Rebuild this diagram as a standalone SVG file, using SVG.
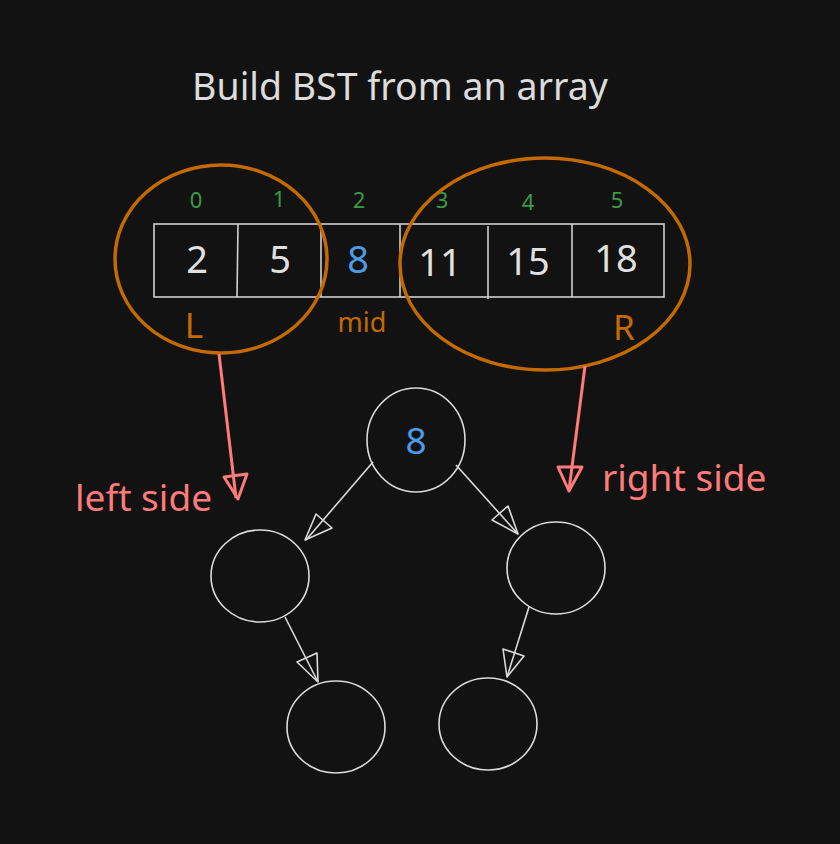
<svg xmlns="http://www.w3.org/2000/svg" width="840" height="844" viewBox="0 0 840 844">
<style>
text{font-family:"Noto Sans","Open Sans",sans-serif}
.num{font-size:38px;fill:#e0e0e0;text-anchor:middle}
.idx{font-size:22px;fill:#3a9a48;text-anchor:middle}
.org{fill:#c46a00;text-anchor:middle}
.pink{fill:#ff7a7a;font-size:37px}
.node{fill:none;stroke:#dcdcdc;stroke-width:1.6}
.edge{stroke:#dcdcdc;stroke-width:1.6;fill:none}
.ehead{stroke:#dcdcdc;stroke-width:1.6;fill:none;stroke-linejoin:round}
.parr{stroke:#ff7a7a;stroke-width:3;fill:none;stroke-linejoin:round}
.oell{fill:none;stroke:#c46a00;stroke-width:3.5}
</style>
<rect width="840" height="844" fill="#121212"/>
<text x="400" y="100" font-size="37.5" fill="#dcdcdc" text-anchor="middle">Build BST from an array</text>

<g id="array">
<rect x="154" y="224" width="510" height="73" fill="none" stroke="#d0d0d0" stroke-width="1.6"/>
<line x1="238" y1="224" x2="237" y2="297" stroke="#d0d0d0" stroke-width="1.6"/>
<line x1="321" y1="224" x2="321" y2="297" stroke="#d0d0d0" stroke-width="1.6"/>
<line x1="400" y1="224" x2="400" y2="297" stroke="#d0d0d0" stroke-width="1.6"/>
<line x1="488" y1="226" x2="488" y2="299" stroke="#d0d0d0" stroke-width="1.6"/>
<line x1="572" y1="224" x2="572" y2="297" stroke="#d0d0d0" stroke-width="1.6"/>
<text class="num" x="197" y="273">2</text>
<text class="num" x="280" y="273">5</text>
<text class="num" x="358" y="273" style="fill:#4d9be6">8</text>
<text class="num" x="440" y="276">11</text>
<text class="num" x="528" y="275">15</text>
<text class="num" x="616" y="272">18</text>
<text class="idx" x="196" y="208">0</text>
<text class="idx" x="279" y="207">1</text>
<text class="idx" x="359" y="208">2</text>
<text class="idx" x="442" y="208">3</text>
<text class="idx" x="528" y="210">4</text>
<text class="idx" x="617" y="208">5</text>
</g>

<g id="left-range">
<ellipse class="oell" cx="221" cy="259" rx="106" ry="94"/>
<text class="org" x="194" y="338" font-size="35">L</text>
</g>
<g id="mid-label">
<text class="org" x="362" y="332" font-size="27">mid</text>
</g>
<g id="right-range">
<ellipse class="oell" cx="545" cy="264" rx="145" ry="106"/>
<text class="org" x="624" y="340" font-size="35">R</text>
</g>

<g id="left-side-label"><text class="pink" x="75" y="511">left side</text></g>
<g id="right-side-label"><text class="pink" x="602" y="491">right side</text></g>

<g id="root">
<ellipse class="node" cx="416" cy="440" rx="49" ry="52"/>
<text x="416" y="454" font-size="37" fill="#4d9be6" text-anchor="middle">8</text>
</g>
<g id="left-child"><ellipse class="node" cx="260" cy="576" rx="49" ry="46"/></g>
<g id="right-child"><ellipse class="node" cx="556" cy="568" rx="49" ry="46"/></g>
<g id="left-grandchild"><ellipse class="node" cx="336" cy="727" rx="49" ry="46"/></g>
<g id="right-grandchild"><ellipse class="node" cx="488" cy="724" rx="49" ry="46"/></g>

<g id="connectors">
<line class="parr" x1="219" y1="354" x2="236" y2="498"/>
<polygon class="parr" points="224,477 247,474 238,499"/>
<line class="parr" x1="585" y1="366" x2="569" y2="490"/>
<polygon class="parr" points="558,467 582,467 569,491"/>

<line class="edge" x1="373" y1="462" x2="306" y2="540"/>
<polygon class="ehead" points="316,514 332,528 305,540"/>
<line class="edge" x1="456" y1="465" x2="518" y2="534"/>
<polygon class="ehead" points="492,520 508,506 518,534"/>
<line class="edge" x1="285" y1="617" x2="318" y2="682"/>
<polygon class="ehead" points="297,662 317,653 318,682"/>
<line class="edge" x1="529" y1="607" x2="507" y2="677"/>
<polygon class="ehead" points="503,649 524,656 507,677"/>
</g>
</svg>
